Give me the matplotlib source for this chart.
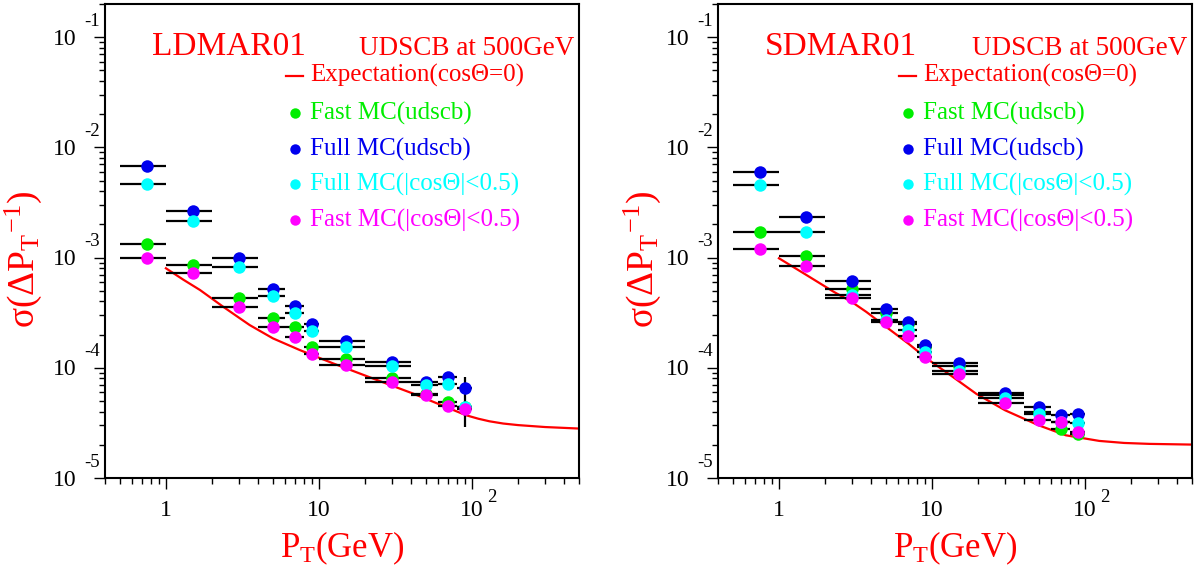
import numpy as np
import matplotlib
matplotlib.use("Agg")
import matplotlib.pyplot as plt
import matplotlib.transforms as mtransforms
from matplotlib.ticker import LogLocator, NullFormatter

plt.rcParams['font.family'] = ['Liberation Serif', 'DejaVu Serif']
plt.rcParams['mathtext.fontset'] = 'custom'
plt.rcParams['mathtext.rm'] = 'Liberation Serif'
plt.rcParams['mathtext.it'] = 'Liberation Serif:italic'

# PT bins (GeV): centre and edges
pt = [0.75, 1.5, 3, 5, 7, 9, 15, 30, 50, 70, 90]
pt_lo = [0.5, 1, 2, 4, 6, 8, 10, 20, 40, 60, 80]
pt_hi = [1, 2, 4, 6, 8, 10, 20, 40, 60, 80, 100]

# LDMAR01
ld_fast = [1.34e-3, 8.6e-4, 4.33e-4, 2.83e-4, 2.33e-4, 1.55e-4, 1.21e-4, 8.0e-5, 5.73e-5, 4.91e-5, 4.41e-5]
ld_full = [6.82e-3, 2.64e-3, 1.0e-3, 5.22e-4, 3.64e-4, 2.49e-4, 1.75e-4, 1.12e-4, 7.36e-5, 8.28e-5, 6.5e-5]
ld_full_cos = [4.68e-3, 2.17e-3, 8.2e-4, 4.52e-4, 3.16e-4, 2.14e-4, 1.56e-4, 1.03e-4, 6.96e-5, 7.1e-5, 4.4e-5]
ld_fast_cos = [1.0e-3, 7.2e-4, 3.59e-4, 2.36e-4, 1.9e-4, 1.33e-4, 1.05e-4, 7.5e-5, 5.61e-5, 4.48e-5, 4.27e-5]
ld_full_err_lo = [0] * 10 + [3.6e-5]
ld_full_err_hi = [0] * 10 + [1.7e-5]
ld_exp_pt = [1.0, 1.3, 1.67, 2.0, 2.36, 3.0, 3.53, 5.0, 7.48, 12.3, 22.5, 41, 91.5, 110, 130, 160, 200, 300, 500]
ld_exp = [8.0e-4, 6.3e-4, 5.08e-4, 4.24e-4, 3.59e-4, 2.85e-4, 2.44e-4, 1.85e-4, 1.45e-4, 1.1e-4,
          8.0e-5, 5.85e-5, 3.71e-5, 3.45e-5, 3.27e-5, 3.12e-5, 3.02e-5, 2.9e-5, 2.81e-5]

# SDMAR01
sd_fast = [1.69e-3, 1.04e-3, 5.15e-4, 3.12e-4, 2.48e-4, 1.55e-4, 1.04e-4, 5.65e-5, 3.98e-5, 2.81e-5, 2.49e-5]
sd_full = [5.93e-3, 2.33e-3, 6.14e-4, 3.42e-4, 2.6e-4, 1.6e-4, 1.1e-4, 5.93e-5, 4.41e-5, 3.71e-5, 3.77e-5]
sd_full_cos = [4.58e-3, 1.69e-3, 4.58e-4, 2.71e-4, 2.2e-4, 1.4e-4, 9.4e-5, 5.27e-5, 3.79e-5, 3.23e-5, 3.16e-5]
sd_fast_cos = [1.2e-3, 8.45e-4, 4.27e-4, 2.59e-4, 1.95e-4, 1.26e-4, 8.7e-5, 4.81e-5, 3.35e-5, 3.23e-5, 2.62e-5]
sd_exp_pt = [1.0, 1.5, 2.26, 3.0, 3.73, 5.0, 7.0, 9.2, 13.0, 19.5, 30, 49.7, 75, 124, 180, 263, 500]
sd_exp = [9.86e-4, 7.0e-4, 4.93e-4, 3.95e-4, 3.21e-4, 2.36e-4, 1.66e-4, 1.22e-4, 8.7e-5, 5.8e-5,
          4.12e-5, 3.01e-5, 2.44e-5, 2.17e-5, 2.08e-5, 2.04e-5, 2.01e-5]

labels = ["Fast MC(udscb)", "Full MC(udscb)", "Full MC(|cosΘ|<0.5)", "Fast MC(|cosΘ|<0.5)"]
colors = ["#00ee00", "#0000ee", "#00ffff", "#ff00ff"]

fig = plt.figure(figsize=(11.97, 5.69), dpi=100)


def draw_panel(ax, name, series, exp_pt, exp_val, yerr_full=None):
    pts = np.array(pt)
    xerr = [pts - np.array(pt_lo), np.array(pt_hi) - pts]

    ax.plot(exp_pt, exp_val, color='red', lw=1.6, zorder=1)

    for i, vals in enumerate(series):
        yerr = yerr_full if i == 1 else None
        ax.errorbar(pt, vals, xerr=xerr, yerr=yerr, fmt='o', color=colors[i],
                    ecolor='black', elinewidth=1.6, capsize=0, markersize=9,
                    markeredgewidth=0, zorder=2 + i)

    ax.set_xscale('log')
    ax.set_yscale('log')
    ax.set_xlim(0.4, 500)
    ax.set_ylim(1e-5, 0.2)

    ax.xaxis.set_major_locator(LogLocator(base=10))
    ax.xaxis.set_minor_locator(LogLocator(base=10, subs=range(2, 10)))
    ax.yaxis.set_major_locator(LogLocator(base=10))
    ax.yaxis.set_minor_locator(LogLocator(base=10, subs=range(2, 10)))
    for a in (ax.xaxis, ax.yaxis):
        a.set_major_formatter(NullFormatter())
        a.set_minor_formatter(NullFormatter())
    ax.tick_params(which='major', direction='out', length=8, width=1.0, top=False, right=False)
    ax.tick_params(which='minor', direction='out', length=4, width=1.0, top=False, right=False)
    for s in ax.spines.values():
        s.set_linewidth(1.5)

    # ROOT style tick labels
    ytr = ax.get_yaxis_transform()
    for e in [-5, -4, -3, -2, -1]:
        t1 = mtransforms.offset_copy(ytr, fig=fig, x=-28, y=-2, units='dots')
        ax.text(0, 10.0 ** e, '10', transform=t1, ha='right', va='center', fontsize=17)
        t2 = mtransforms.offset_copy(ytr, fig=fig, x=-5, y=16, units='dots')
        ax.text(0, 10.0 ** e, str(e), transform=t2, ha='right', va='center', fontsize=13.5)
    xtr = ax.get_xaxis_transform()
    for v, s in [(1, '1'), (10, '10'), (100, '10')]:
        t = mtransforms.offset_copy(xtr, fig=fig, x=0, y=-33, units='dots')
        ax.text(v, 0, s, transform=t, ha='center', va='center', fontsize=17)
    t = mtransforms.offset_copy(xtr, fig=fig, x=15, y=-20, units='dots')
    ax.text(100, 0, '2', transform=t, ha='left', va='center', fontsize=13.5)

    # titles
    ax.text(0.099, 0.892, name, transform=ax.transAxes, color='red', fontsize=24,
            ha='left', va='baseline')
    ax.text(0.99, 0.892, "UDSCB at 500GeV", transform=ax.transAxes, color='red',
            fontsize=19.5, ha='right', va='baseline')

    # legend
    ax.plot([0.382, 0.418], [0.849, 0.849], transform=ax.transAxes, color='red', lw=1.6)
    ax.text(0.432, 0.849, "Expectation(cosΘ=0)", transform=ax.transAxes, color='red',
            fontsize=18, ha='left', va='center')
    leg_y = [0.770, 0.694, 0.620, 0.544]
    for i in range(4):
        ax.plot([0.400], [leg_y[i]], 'o', transform=ax.transAxes, color=colors[i],
                markersize=7.5, markeredgewidth=0)
        ax.text(0.432, leg_y[i], labels[i], transform=ax.transAxes, color=colors[i],
                fontsize=18, ha='left', va='center')

    ax.text(0.5, -0.167, r"P$_\mathrm{T}$(GeV)", transform=ax.transAxes, color='red',
            fontsize=25, ha='center', va='baseline')


ylab = r"σ(ΔP$_\mathrm{T}{}^{\mathrm{-1}}$)"

ax1 = fig.add_axes([105 / 1197, 91 / 569, 474 / 1197, 474 / 569])
draw_panel(ax1, "LDMAR01", [ld_fast, ld_full, ld_full_cos, ld_fast_cos], ld_exp_pt, ld_exp,
           yerr_full=[ld_full_err_lo, ld_full_err_hi])
ax1.text(-0.172, 0.46, ylab, transform=ax1.transAxes, color='red',
         fontsize=27, rotation=90, ha='center', va='center')

ax2 = fig.add_axes([718 / 1197, 91 / 569, 474 / 1197, 474 / 569])
draw_panel(ax2, "SDMAR01", [sd_fast, sd_full, sd_full_cos, sd_fast_cos], sd_exp_pt, sd_exp)
ax2.text(-0.16, 0.46, ylab, transform=ax2.transAxes, color='red',
         fontsize=27, rotation=90, ha='center', va='center')

fig.savefig("out.png", dpi=100)
